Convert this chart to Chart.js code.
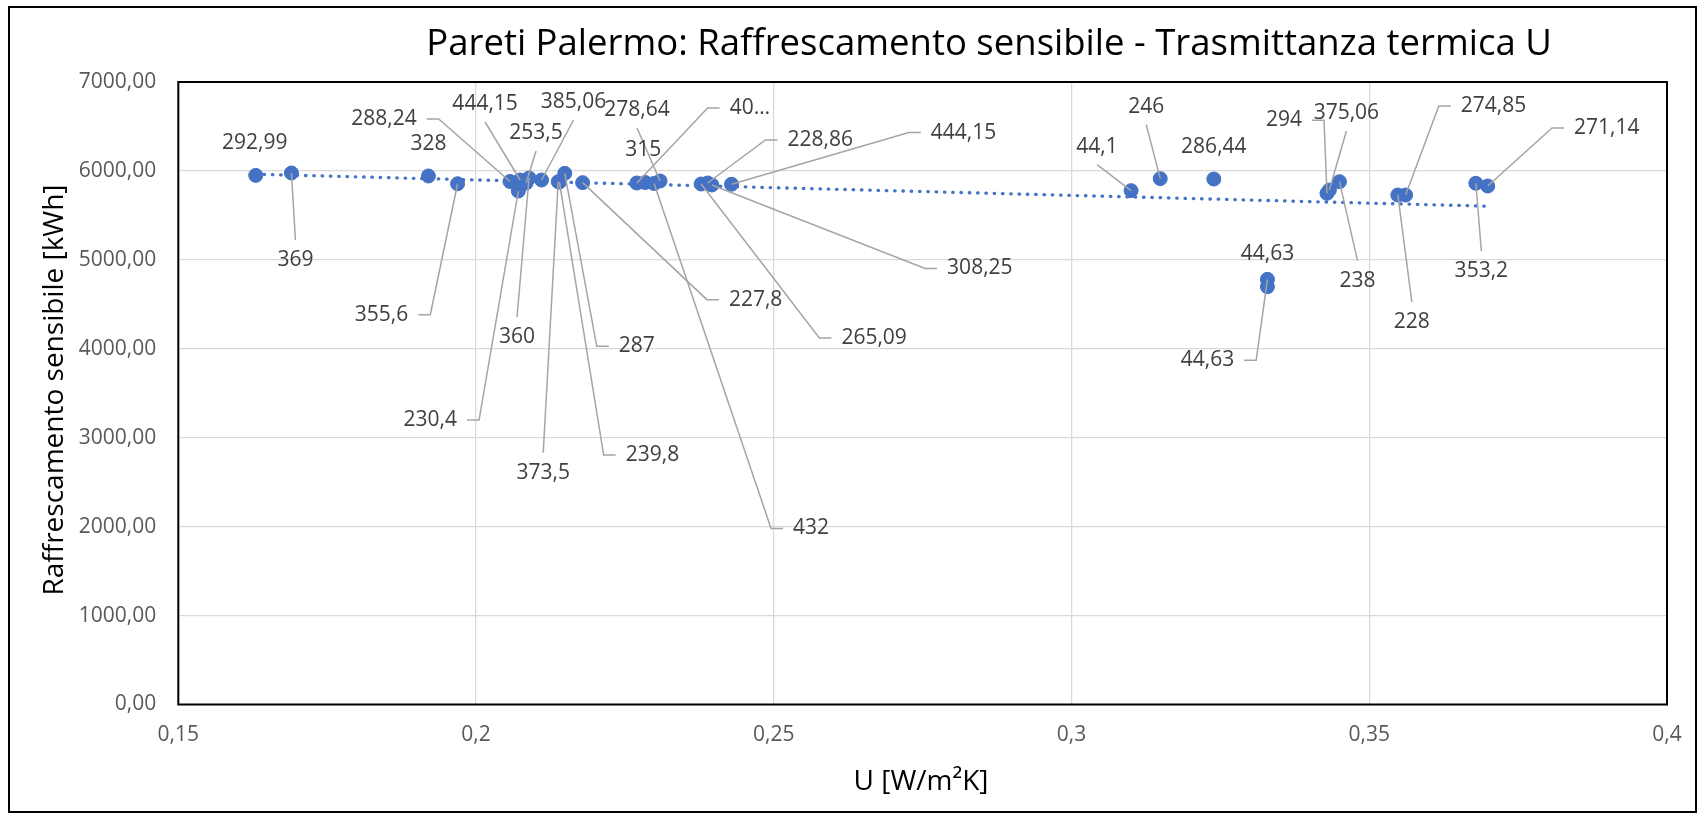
<!DOCTYPE html>
<html>
<head>
<meta charset="utf-8">
<title>Pareti Palermo</title>
<script src="https://cdn.jsdelivr.net/npm/chart.js@4.4.1/dist/chart.umd.min.js"></script>
<style>
  html, body { margin: 0; padding: 0; background: #ffffff; }
  #c { display: block; }
</style>
</head>
<body>
<canvas id="c" width="1704" height="817"></canvas>
<script>
// Trasmittanza termica U [W/m²K] of each wall
const uValues = [
  0.163, 0.169, 0.192, 0.1969, 0.2057, 0.2074, 0.2084, 0.2089, 0.2071, 0.2110,
  0.2138, 0.2140, 0.2149, 0.2179, 0.2270, 0.2284, 0.2299, 0.2309, 0.2378, 0.2389,
  0.2396, 0.2429, 0.3100, 0.3149, 0.3239, 0.3329, 0.3329, 0.3429, 0.3433, 0.3450,
  0.3548, 0.3561, 0.3679, 0.3699
];

// Raffrescamento sensibile [kWh]
const coolingKWh = [
  5950, 5977, 5943, 5856, 5881, 5898, 5864, 5920, 5774, 5898,
  5879, 5875, 5973, 5868, 5864, 5870, 5859, 5887, 5853, 5864,
  5842, 5850, 5778, 5913, 5909, 4781, 4698, 5748, 5785, 5879,
  5729, 5729, 5861, 5830
];

// Label shown next to each wall
const pointLabels = [
  '292,99', '369', '328', '355,6', '288,24', '444,15', '253,5', '360', '230,4', '385,06',
  '373,5', '239,8', '287', '227,8', '40…', '315', '432', '278,64', '265,09', '228,86',
  '308,25', '444,15', '44,1', '246', '286,44', '44,63', '44,63', '294', '375,06', '238',
  '228', '274,85', '353,2', '271,14'
];

const xTickLabels = ['0,15', '0,2', '0,25', '0,3', '0,35', '0,4'];
const yTickLabels = ['0,00', '1000,00', '2000,00', '3000,00', '4000,00', '5000,00', '6000,00', '7000,00'];

// Label placement: offset of the label centre from its marker (px) and the
// side of the label where the leader line attaches ('' = no leader line).
const labelLayout = [
  [-1, -32, ''], [4, 87, 'T'], [0, -32, ''], [-76, 131, 'R'], [-126, -62.5, 'R'],
  [-35, -76, 'B'], [10, -50, 'B'], [-12, 159, 'T'], [-88, 229, 'R'], [32, -78, 'B'],
  [-15, 291, 'T'], [93, 273, 'L'], [72, 173, 'L'], [173, 117, 'L'], [113, -75, 'L'],
  [-2, -32, ''], [157, 345, 'L'], [-23, -71, 'B'], [173, 154, 'L'], [112.5, -43, 'L'],
  [268, 83.5, 'L'], [232, -51.7, 'L'], [-34, -44, 'B'], [-14, -72, 'B'], [0, -32, ''],
  [-60, 81, 'R'], [0, -33, ''], [-43, -73, 'R'], [17, -77, 'B'], [18, 99, 'T'],
  [14, 127, 'T'], [88, -89, 'L'], [5.5, 88, 'T'], [119, -58, 'L']
];

const FONT = '"Open Sans", "DejaVu Sans", sans-serif';
const BLUE = '#4472C4';

// Least-squares line through the points
function linearFit(xs, ys) {
  const n = xs.length;
  let sx = 0, sy = 0, sxx = 0, sxy = 0;
  for (let i = 0; i < n; i++) {
    sx += xs[i]; sy += ys[i]; sxx += xs[i] * xs[i]; sxy += xs[i] * ys[i];
  }
  const slope = (n * sxy - sx * sy) / (n * sxx - sx * sx);
  const intercept = (sy - slope * sx) / n;
  return { slope, intercept };
}

const fit = linearFit(uValues, coolingKWh);
const xMin = Math.min(...uValues);
const xMax = Math.max(...uValues);
const trendPoints = [
  { x: xMin, y: fit.intercept + fit.slope * xMin },
  { x: xMax, y: fit.intercept + fit.slope * xMax }
];

const scatterPoints = uValues.map((u, i) => ({ x: u, y: coolingKWh[i] }));

const decorations = {
  id: 'decorations',
  beforeDraw(chart) {
    const ctx = chart.ctx;
    ctx.save();
    ctx.fillStyle = '#ffffff';
    ctx.fillRect(0, 0, chart.width, chart.height);
    ctx.restore();
  },
  afterDatasetsDraw(chart) {
    const ctx = chart.ctx;
    const area = chart.chartArea;
    const meta = chart.getDatasetMeta(0);

    // plot area frame
    ctx.save();
    ctx.strokeStyle = '#000000';
    ctx.lineWidth = 2;
    ctx.strokeRect(area.left, area.top, area.right - area.left, area.bottom - area.top);
    ctx.restore();

    // leader lines
    ctx.save();
    ctx.font = '21px ' + FONT;
    ctx.strokeStyle = '#a5a5a5';
    ctx.lineWidth = 1.5;
    meta.data.forEach((pt, i) => {
      const [dx, dy, side] = labelLayout[i];
      if (!side) return;
      const lx = pt.x + dx, ly = pt.y + dy;
      const halfW = ctx.measureText(pointLabels[i]).width / 2 + 10;
      ctx.beginPath();
      if (side === 'L') {
        ctx.moveTo(lx - halfW, ly);
        ctx.lineTo(lx - halfW - 12, ly);
      } else if (side === 'R') {
        ctx.moveTo(lx + halfW, ly);
        ctx.lineTo(lx + halfW + 12, ly);
      } else if (side === 'T') {
        ctx.moveTo(lx, ly - 20);
      } else {
        ctx.moveTo(lx, ly + 18);
      }
      ctx.lineTo(pt.x, pt.y);
      ctx.stroke();
    });
    ctx.restore();

    // point labels
    ctx.save();
    ctx.font = '21px ' + FONT;
    ctx.fillStyle = '#404040';
    ctx.textAlign = 'center';
    ctx.textBaseline = 'middle';
    meta.data.forEach((pt, i) => {
      const [dx, dy] = labelLayout[i];
      ctx.fillText(pointLabels[i], pt.x + dx, pt.y + dy);
    });
    ctx.restore();
  },
  afterDraw(chart) {
    const ctx = chart.ctx;
    ctx.save();
    ctx.fillStyle = '#000000';
    ctx.textBaseline = 'alphabetic';
    ctx.textAlign = 'center';

    ctx.font = '36.5px ' + FONT;
    ctx.fillText('Pareti Palermo: Raffrescamento sensibile - Trasmittanza termica U', 989, 55);

    ctx.font = '28px ' + FONT;
    ctx.fillText('U [W/m²K]', 921, 790);

    ctx.translate(63, 390);
    ctx.rotate(-Math.PI / 2);
    ctx.fillText('Raffrescamento sensibile [kWh]', 0, 0);
    ctx.restore();

    // outer frame of the chart
    ctx.save();
    ctx.strokeStyle = '#000000';
    ctx.lineWidth = 2;
    ctx.strokeRect(9, 7, 1687, 805);
    ctx.restore();
  }
};

new Chart(document.getElementById('c'), {
  type: 'scatter',
  data: {
    datasets: [
      {
        label: 'Raffrescamento sensibile',
        data: scatterPoints,
        pointRadius: 7,
        pointBorderWidth: 1,
        backgroundColor: BLUE,
        borderColor: BLUE
      },
      {
        label: 'Lineare',
        type: 'line',
        data: trendPoints,
        showLine: true,
        pointRadius: 0,
        borderColor: BLUE,
        borderWidth: 3.3,
        borderDash: [0.5, 7.8],
        borderCapStyle: 'round',
        fill: false
      }
    ]
  },
  options: {
    responsive: false,
    devicePixelRatio: 1,
    animation: false,
    events: [],
    layout: { padding: { left: 10, top: 82, right: 37, bottom: 0 } },
    plugins: {
      legend: { display: false },
      title: { display: false },
      tooltip: { enabled: false }
    },
    scales: {
      x: {
        type: 'linear',
        min: 0.15,
        max: 0.4,
        ticks: {
          stepSize: 0.05,
          padding: 18,
          color: '#595959',
          font: { family: FONT, size: 21 },
          maxRotation: 0,
          callback: (v, i) => xTickLabels[i]
        },
        grid: { color: '#d9d9d9', lineWidth: 1.3, drawTicks: false },
        border: { display: false },
        afterFit: (scale) => { scale.height = 112.5; }
      },
      y: {
        type: 'linear',
        min: 0,
        max: 7000,
        ticks: {
          stepSize: 1000,
          padding: 22,
          color: '#595959',
          font: { family: FONT, size: 21 },
          callback: (v, i) => yTickLabels[i]
        },
        grid: { color: '#d9d9d9', lineWidth: 1.3, drawTicks: false },
        border: { display: false },
        afterFit: (scale) => { scale.width = 168.3; }
      }
    }
  },
  plugins: [decorations]
});
</script>
</body>
</html>
